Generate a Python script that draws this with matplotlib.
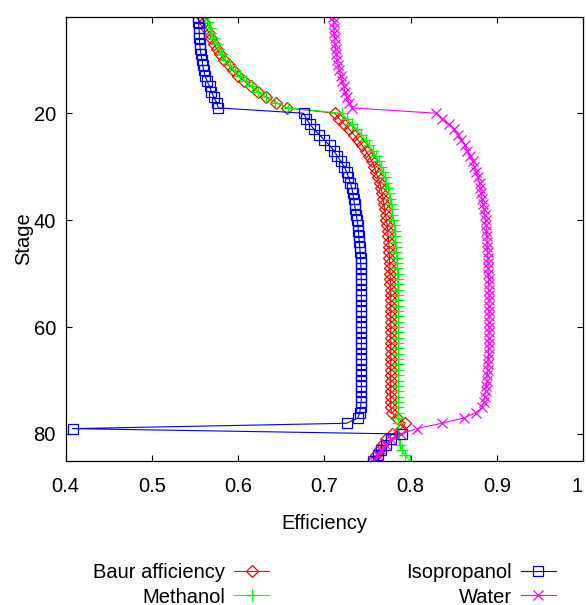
import matplotlib
matplotlib.use("Agg")
import matplotlib.pyplot as plt

plt.rcParams['font.family'] = ['Liberation Sans', 'DejaVu Sans']

stages = list(range(2, 86))

baur = [0.558, 0.560, 0.563, 0.566, 0.569, 0.572, 0.575, 0.579, 0.584, 0.589,
        0.594, 0.600, 0.607, 0.615, 0.623, 0.632, 0.644, 0.657,
        0.712, 0.717, 0.723, 0.729, 0.734, 0.739, 0.744, 0.748, 0.752, 0.755,
        0.758, 0.760, 0.762, 0.764, 0.766, 0.767, 0.768, 0.769, 0.770, 0.771,
        0.772, 0.773, 0.7735, 0.774, 0.7745, 0.775, 0.7752, 0.7755, 0.7758, 0.776,
        0.7762, 0.7765, 0.7767, 0.777, 0.777, 0.777, 0.777, 0.777, 0.777, 0.777,
        0.777, 0.777, 0.777, 0.777, 0.777, 0.777, 0.777, 0.777, 0.777, 0.777,
        0.777, 0.777, 0.777, 0.777, 0.777, 0.777, 0.778, 0.784, 0.794, 0.789,
        0.779, 0.772, 0.767, 0.763, 0.760, 0.757]

methanol = [0.562, 0.565, 0.567, 0.569, 0.572, 0.575, 0.578, 0.581, 0.585, 0.590,
            0.596, 0.602, 0.609, 0.616, 0.623, 0.632, 0.643, 0.658,
            0.720, 0.726, 0.732, 0.738, 0.743, 0.748, 0.752, 0.756, 0.760, 0.763,
            0.766, 0.768, 0.770, 0.772, 0.774, 0.775, 0.776, 0.777, 0.778, 0.779,
            0.780, 0.781, 0.7815, 0.782, 0.7825, 0.783, 0.7835, 0.784, 0.7843, 0.7846,
            0.785, 0.785, 0.7852, 0.7855, 0.7855, 0.7857, 0.786, 0.786, 0.786, 0.786,
            0.786, 0.786, 0.786, 0.786, 0.786, 0.786, 0.786, 0.786, 0.786, 0.786,
            0.786, 0.786, 0.786, 0.786, 0.786, 0.786, 0.786, 0.786, 0.786, 0.786,
            0.786, 0.787, 0.788, 0.790, 0.794, 0.799]

isopropanol = [0.554, 0.554, 0.5545, 0.555, 0.555, 0.5555, 0.556, 0.557, 0.558, 0.559,
               0.560, 0.5615, 0.564, 0.567, 0.569, 0.572, 0.575, 0.577,
               0.676, 0.679, 0.683, 0.688, 0.694, 0.700, 0.706, 0.711, 0.715, 0.719,
               0.723, 0.726, 0.728, 0.730, 0.732, 0.733, 0.734, 0.735, 0.736, 0.737,
               0.738, 0.739, 0.7395, 0.740, 0.7405, 0.741, 0.7415, 0.742, 0.742, 0.7425,
               0.7425, 0.743, 0.743, 0.743, 0.743, 0.743, 0.743, 0.743, 0.743, 0.743,
               0.743, 0.743, 0.743, 0.743, 0.743, 0.743, 0.743, 0.743, 0.743, 0.743,
               0.743, 0.743, 0.743, 0.743, 0.7425, 0.742, 0.741, 0.739, 0.726, 0.408,
               0.790, 0.777, 0.771, 0.766, 0.762, 0.757]

water = [0.7105, 0.711, 0.711, 0.7115, 0.712, 0.7125, 0.713, 0.714, 0.715, 0.716,
         0.7175, 0.719, 0.721, 0.7225, 0.724, 0.726, 0.729, 0.732,
         0.830, 0.837, 0.844, 0.850, 0.855, 0.859, 0.863, 0.866, 0.869, 0.872,
         0.874, 0.876, 0.878, 0.880, 0.881, 0.882, 0.883, 0.884, 0.885, 0.886,
         0.887, 0.8875, 0.888, 0.8885, 0.889, 0.889, 0.8895, 0.8895, 0.890, 0.890,
         0.890, 0.8905, 0.8905, 0.891, 0.891, 0.891, 0.891, 0.891, 0.891, 0.891,
         0.891, 0.891, 0.891, 0.891, 0.8905, 0.8905, 0.890, 0.890, 0.8895, 0.889,
         0.8885, 0.888, 0.887, 0.886, 0.885, 0.883, 0.876, 0.862, 0.836, 0.807,
         0.789, 0.777, 0.771, 0.766, 0.762, 0.757]

series = [
    ("Baur afficiency", baur, "#ff0000", "D", 6.0),
    ("Methanol", methanol, "#00ff00", "+", 8.0),
    ("Isopropanol", isopropanol, "#0000ff", "s", 6.8),
    ("Water", water, "#ff00ff", "x", 7.0),
]

x_ticks = [0.4, 0.5, 0.6, 0.7, 0.8, 0.9, 1.0]
x_tick_labels = ["0.4", "0.5", "0.6", "0.7", "0.8", "0.9", "1"]
y_ticks = [20, 40, 60, 80]

FS = 14.5

fig = plt.figure(figsize=(5.86, 6.05), dpi=100)
ax = fig.add_axes([65.7 / 586, 1 - 460.7 / 605, (583 - 65.7) / 586, (460.7 - 17) / 605])

handles = []
for name, vals, color, marker, ms in series:
    (h,) = ax.plot(vals, stages, color=color, lw=0.8, marker=marker, ms=ms,
                   mfc='none', mec=color, mew=0.9, label=name)
    handles.append(h)

ax.set_xlim(0.4, 1.0)
ax.set_ylim(85, 2)
ax.set_xticks(x_ticks)
ax.set_xticklabels(x_tick_labels)
ax.get_xticklabels()[-1].set_horizontalalignment('right')
ax.set_yticks(y_ticks)
ax.tick_params(direction='in', length=4, width=0.8, top=True, right=True,
               labelsize=FS)
ax.tick_params(axis='x', pad=12)
ax.tick_params(axis='y', pad=7)
for s in ax.spines.values():
    s.set_linewidth(0.9)

ax.set_xlabel("Efficiency", fontsize=FS, labelpad=13)
ax.set_ylabel("Stage", fontsize=FS, labelpad=0)

fig.legend(handles=handles, ncol=2, markerfirst=False, frameon=False,
           loc='center', bbox_to_anchor=(324.5 / 586, 1 - 585 / 605),
           fontsize=FS, handlelength=1.75, handletextpad=0.45,
           columnspacing=6.8, labelspacing=0.25, borderpad=0.2)

fig.savefig("out.png", dpi=100)
